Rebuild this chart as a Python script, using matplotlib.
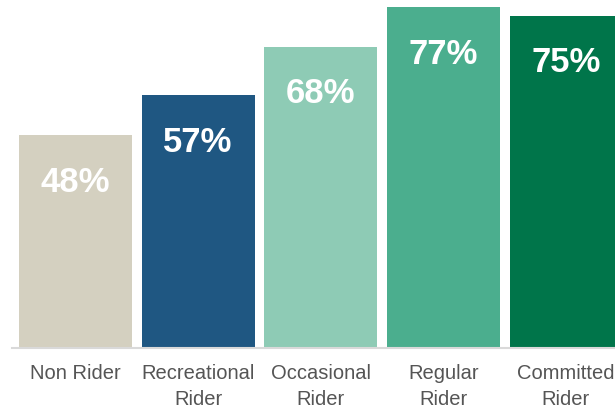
import matplotlib.pyplot as plt
import numpy as np

categories = ["Non Rider", "Recreational\nRider", "Occasional\nRider", "Regular\nRider", "Committed\nRider"]
values = [48, 57, 68, 77, 75]
labels = ["48%", "57%", "68%", "77%", "75%"]
colors = ["#d4d0c0", "#1f5782", "#8ecbb5", "#4bae8e", "#00754a"]

plt.rcParams['font.family'] = ['Liberation Sans', 'DejaVu Sans']

fig = plt.figure(figsize=(6.15, 4.09), dpi=100)
ax = fig.add_axes([12 / 615, 61 / 409, 603 / 615, 348 / 409])

x = np.arange(len(values))
ax.bar(x, values, width=0.92, color=colors)

for xi, v, lab in zip(x, values, labels):
    ax.annotate(lab, (xi, v), xytext=(0, -34), textcoords="offset points",
                ha="center", va="center", color="white", fontsize=25, fontweight="bold")

ax.set_xlim(-0.518, 4.40)
ax.set_ylim(0, 348 / 4.43)

ax.set_xticks(x)
ax.set_xticklabels(categories, fontsize=14.5, color="#555555", linespacing=1.45)
ax.tick_params(axis="x", length=0, pad=11.5)
ax.set_yticks([])

for s in ["top", "right", "left"]:
    ax.spines[s].set_visible(False)
ax.spines["bottom"].set_color("#d9d9d9")
ax.spines["bottom"].set_linewidth(1.5)

fig.savefig("out.png", dpi=100)
